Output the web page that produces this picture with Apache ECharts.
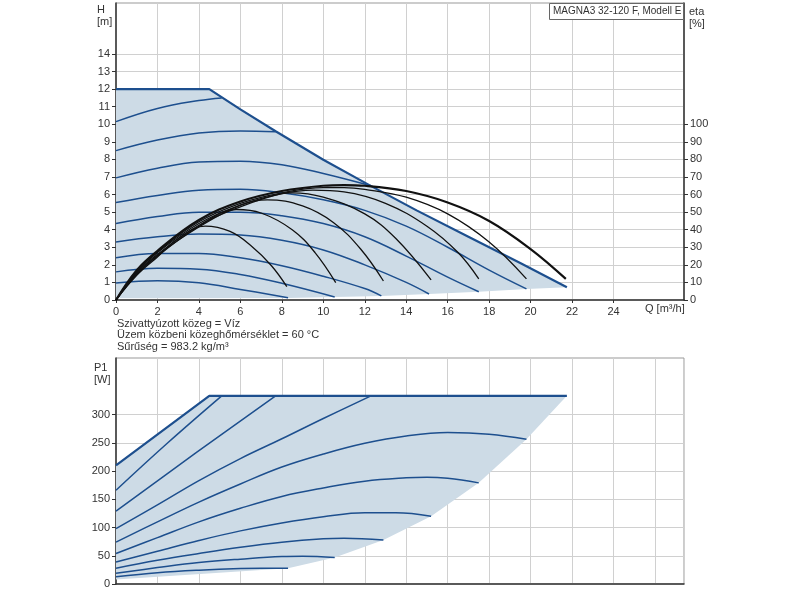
<!DOCTYPE html>
<html>
<head>
<meta charset="utf-8">
<script src="https://cdn.jsdelivr.net/npm/echarts@6/dist/echarts.min.js"></script>
<style>
  html, body { margin: 0; padding: 0; background: #fff; }
  #chart { width: 800px; height: 600px; }
</style>
</head>
<body>
<div id="chart"></div>
<script>
// Q ticks (m3/h)
const qLabels = [0, 2, 4, 6, 8, 10, 12, 14, 16, 18, 20, 22, 24];
const hLabels = [0, 1, 2, 3, 4, 5, 6, 7, 8, 9, 10, 11, 12, 13, 14];
const etaLabels = [0, 10, 20, 30, 40, 50, 60, 70, 80, 90, 100];
const pLabels = [0, 50, 100, 150, 200, 250, 300];

// H [m] - max curve and speed curves, [Q, H]
const hMax = [[0, 12], [4.5, 12], [6, 10.85], [7.7, 9.6], [10, 7.98], [12.2, 6.55], [14.5, 5.1], [17, 3.6], [19.5, 2.1], [21.75, 0.72]];
const hSpeed = [
  [[0, 10.15], [2, 10.9], [4, 11.35], [5.1, 11.5]],
  [[0, 8.5], [2, 9.1], [4, 9.5], [6, 9.62], [7.7, 9.58]],
  [[0, 6.95], [2, 7.5], [4, 7.85], [6, 7.9], [8, 7.7], [10, 7.2], [12.3, 6.5]],
  [[0, 5.55], [2, 5.95], [4, 6.25], [6, 6.3], [8, 6.1], [10, 5.7], [12, 5.1], [14, 4.2], [16, 3.0], [18, 1.7], [19.8, 0.63]],
  [[0, 4.35], [2, 4.75], [4, 5.0], [6, 5.0], [8, 4.8], [10, 4.35], [12, 3.6], [14, 2.5], [16, 1.3], [17.5, 0.47]],
  [[0, 3.3], [2, 3.6], [4, 3.75], [6, 3.7], [8, 3.4], [10, 2.85], [12, 2.0], [14, 1.0], [15.1, 0.34]],
  [[0, 2.4], [2, 2.65], [4, 2.65], [6, 2.4], [8, 1.95], [10, 1.35], [12, 0.65], [12.8, 0.23]],
  [[0, 1.6], [2, 1.8], [4, 1.75], [6, 1.45], [8, 0.95], [10.55, 0.17]],
  [[0, 0.97], [2, 1.1], [4, 0.98], [6, 0.6], [8.3, 0.13]]
];
const hShade = [[0, 0.1], [0, 12], [4.5, 12], [6, 10.85], [7.7, 9.6], [10, 7.98], [12.2, 6.55], [14.5, 5.1], [17, 3.6], [19.5, 2.1], [21.75, 0.72],
  [19.8, 0.63], [17.5, 0.47], [15.1, 0.34], [12.8, 0.23], [10.55, 0.17], [8.3, 0.12]];

// eta [%], [Q, eta]
const etaCurves = [
  [[0, 0], [1, 14], [2, 24.5], [3, 35], [4.3, 42], [5.5, 39], [6.5, 31], [7.5, 19.5], [8.24, 7.6]],
  [[0, 0], [1, 14.5], [2, 25], [4, 42], [5.8, 51.5], [7, 49.5], [8.5, 40], [9.6, 27], [10.6, 9.9]],
  [[0, 0], [1, 15], [2, 25.5], [4, 41.5], [6, 54], [7.3, 57], [9, 53.5], [10.5, 44], [11.8, 29], [12.9, 10.8]],
  [[0, 0], [1, 15.5], [2, 26], [4, 42.5], [6, 53], [8, 60.5], [8.5, 61], [10, 58.5], [12, 49], [13.5, 35], [15.2, 11.4]],
  [[0, 0], [1, 16], [2, 27], [4, 43.5], [6, 54], [8, 60.5], [9.5, 62.5], [11, 61.5], [13, 55], [15, 42], [16.5, 27], [17.5, 12]],
  [[0, 0], [1, 16.5], [2, 27.5], [4, 44.5], [6, 55], [8, 61], [10, 64], [11, 64], [12, 63], [14, 58.5], [16, 49], [18, 33], [19.8, 12]],
  [[0, 0], [1, 17], [2, 28], [4, 45.5], [6, 56], [8, 62], [10, 65], [11, 65.4], [12, 65], [14, 62], [16, 55.5], [18, 45], [20, 29], [21.7, 12]]
];

// P1 [W], [Q, P]
const pMax = [[0, 210], [4.5, 333], [21.75, 333]];
const pSpeed = [
  [[0, 166], [2.5, 250], [5.1, 333]],
  [[0, 129], [3.85, 232], [7.7, 333]],
  [[0, 98], [2, 140], [4, 183], [6, 222], [8, 257], [10, 293], [12.3, 333]],
  [[0, 74], [2, 110], [4, 145], [6, 177], [8, 207], [10, 230], [12, 249], [14, 262], [16, 268], [18, 265], [19.8, 256]],
  [[0, 54], [2, 82], [4, 110], [6, 134], [8, 155], [10, 170], [12, 182], [14, 188], [15, 189], [16, 187], [17.5, 179]],
  [[0, 39], [2, 58], [4, 77], [6, 94], [8, 108], [10, 119], [12, 126], [13.5, 126], [15.2, 120]],
  [[0, 28], [2, 42], [4, 54], [6, 65], [8, 74], [10, 80], [11, 81], [12.9, 78]],
  [[0, 19], [2, 29], [4, 38], [6, 44], [8, 48.5], [9, 49], [10.55, 47]],
  [[0, 13], [2, 20], [4, 24.5], [6, 27.5], [7, 28], [8.3, 27.7]]
];
const pShade = [[0, 8], [0, 210], [4.5, 333], [21.75, 333], [19.8, 256], [17.5, 179], [15.2, 120],
  [12.9, 78], [10.55, 47], [8.3, 27.7]];

const blue = '#1d4f8e';
const shadeColor = '#cddbe6';
const gridColor = '#d0d0d0';
const font = 'Liberation Sans, Arial, sans-serif';

function shadeSeries(points, xi, yi) {
  return {
    type: 'custom',
    xAxisIndex: xi,
    yAxisIndex: yi,
    data: [[0, 0]],
    silent: true,
    z: 1,
    renderItem: (params, api) => ({
      type: 'polygon',
      shape: { points: points.map(p => api.coord(p)) },
      style: { fill: shadeColor }
    })
  };
}

function curve(data, xi, yi, color, width, smooth) {
  return {
    type: 'line',
    xAxisIndex: xi,
    yAxisIndex: yi,
    data,
    smooth: smooth === undefined ? 0.4 : smooth,
    showSymbol: false,
    silent: true,
    z: 3,
    lineStyle: { color, width }
  };
}

const labelStyle = { color: '#333', fontSize: 11, fontFamily: font };
const splitLine = { show: true, lineStyle: { color: gridColor, width: 1 } };

const series = [
  shadeSeries(hShade, 0, 0),
  shadeSeries(pShade, 1, 2),
  ...hSpeed.map(d => curve(d, 0, 0, blue, 1.5)),
  curve(hMax, 0, 0, blue, 2.2, false),
  ...etaCurves.map((d, i) => curve(d, 0, 1, '#111', i === etaCurves.length - 1 ? 2.2 : 1.3)),
  ...pSpeed.map(d => curve(d, 1, 2, blue, 1.5)),
  curve(pMax, 1, 2, blue, 2.2, false)
];

const option = {
  animation: false,
  grid: [
    { left: 116, top: 3, width: 568, height: 297, show: true, borderColor: '#999', borderWidth: 1 },
    { left: 116, top: 358, width: 568, height: 226, show: true, borderColor: '#999', borderWidth: 1 }
  ],
  xAxis: [
    {
      gridIndex: 0, type: 'value', min: 0, max: 27.4, interval: 2,
      axisLine: { show: true, onZero: false, lineStyle: { color: '#333', width: 1.5 } },
      axisTick: { show: true, length: 3, customValues: qLabels, lineStyle: { color: '#333' } },
      axisLabel: { ...labelStyle, customValues: qLabels, margin: 6 },
      splitLine
    },
    {
      gridIndex: 1, type: 'value', min: 0, max: 27.4, interval: 2,
      axisLine: { show: true, onZero: false, lineStyle: { color: '#333', width: 1.5 } },
      axisTick: { show: false },
      axisLabel: { show: false },
      splitLine
    }
  ],
  yAxis: [
    {
      gridIndex: 0, type: 'value', min: 0, max: 16.9, interval: 1,
      axisLine: { show: true, lineStyle: { color: '#333', width: 1.5 } },
      axisTick: { show: true, length: 4, customValues: hLabels, lineStyle: { color: '#333' } },
      axisLabel: { ...labelStyle, customValues: hLabels, margin: 6 },
      splitLine
    },
    {
      gridIndex: 0, type: 'value', position: 'right', min: 0, max: 169, interval: 10,
      axisLine: { show: true, lineStyle: { color: '#333', width: 1.5 } },
      axisTick: { show: true, length: 4, customValues: etaLabels, lineStyle: { color: '#333' } },
      axisLabel: { ...labelStyle, customValues: etaLabels, margin: 6 },
      splitLine: { show: false }
    },
    {
      gridIndex: 1, type: 'value', min: 0, max: 400, interval: 50,
      axisLine: { show: true, lineStyle: { color: '#333', width: 1.5 } },
      axisTick: { show: true, length: 4, customValues: pLabels, lineStyle: { color: '#333' } },
      axisLabel: { ...labelStyle, customValues: pLabels, margin: 6 },
      splitLine
    }
  ],
  graphic: [
    { type: 'text', left: 97, top: 4, style: { text: 'H\n[m]', fill: '#333', font: '11px ' + font, align: 'center', lineHeight: 12 }, z: 10 },
    { type: 'text', left: 689, top: 6, style: { text: 'eta\n[%]', fill: '#333', font: '11px ' + font, lineHeight: 12 }, z: 10 },
    { type: 'text', left: 645, top: 303, style: { text: 'Q [m³/h]', fill: '#333', font: '11px ' + font }, z: 10 },
    { type: 'text', left: 94, top: 362, style: { text: 'P1\n[W]', fill: '#333', font: '11px ' + font, lineHeight: 12 }, z: 10 },
    {
      type: 'text', left: 117, top: 318,
      style: {
        text: 'Szivattyúzott közeg = Víz\nÜzem közbeni közeghőmérséklet = 60 °C\nSűrűség = 983.2 kg/m³',
        fill: '#333', font: '11px ' + font, lineHeight: 11.5
      }, z: 10
    },
    {
      type: 'rect', left: 549, top: 3, z: 10,
      shape: { width: 134, height: 16 },
      style: { fill: '#fff', stroke: '#666', lineWidth: 1 }
    },
    { type: 'text', left: 553, top: 6, z: 11, style: { text: 'MAGNA3 32-120 F, Modell E', fill: '#333', font: '10px ' + font } }
  ],
  series
};

const chart = echarts.init(document.getElementById('chart'));
chart.setOption(option);
</script>
</body>
</html>
